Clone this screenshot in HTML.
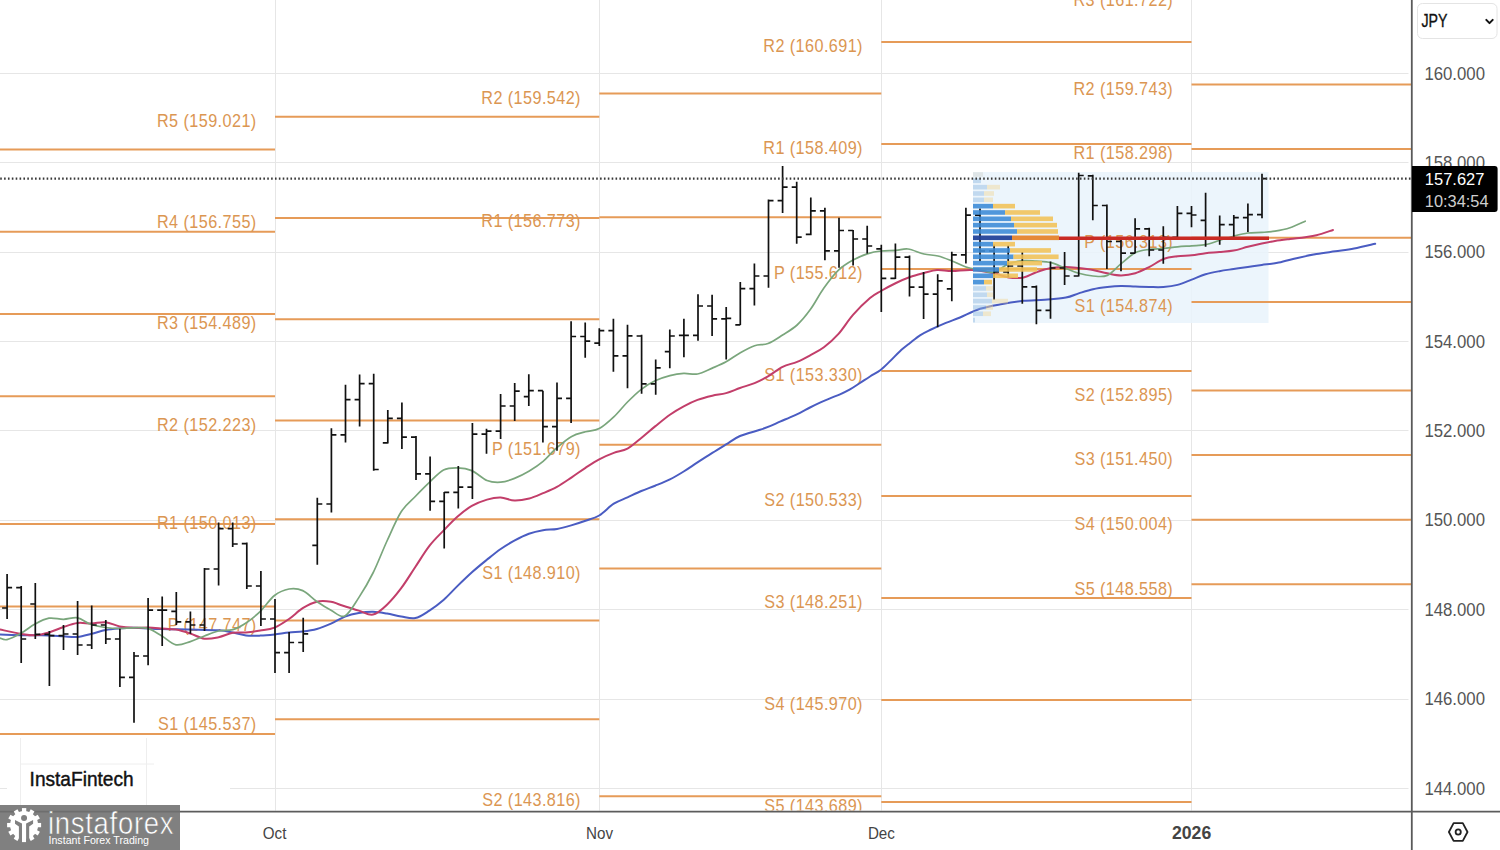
<!DOCTYPE html>
<html><head><meta charset="utf-8">
<style>
html,body{margin:0;padding:0;background:#fff;width:1500px;height:850px;overflow:hidden}
svg{display:block}
text{font-family:"Liberation Sans",sans-serif}
.pl{font-size:18px;fill:#db9652}
.ax{font-size:17.5px;fill:#555}
.tag{font-size:17px}
.jpy{font-size:18px;fill:#111}
.mo{font-size:16.5px;fill:#444}
.ift{font-size:20.5px;fill:#111}
.ifx{font-size:32px;fill:#fff}
.ifs{font-size:10.5px;fill:#fff}
</style></head><body>
<svg width="1500" height="850" viewBox="0 0 1500 850">
<rect width="1500" height="850" fill="#fff"/>
<defs><clipPath id="cp"><rect x="0" y="0" width="1411" height="810.5"/></clipPath></defs><g clip-path="url(#cp)">
<line x1="0" y1="788.5" x2="1408.5" y2="788.5" stroke="#e6e6e6" stroke-width="1"/>
<line x1="0" y1="699.5" x2="1408.5" y2="699.5" stroke="#e6e6e6" stroke-width="1"/>
<line x1="0" y1="609.5" x2="1408.5" y2="609.5" stroke="#e6e6e6" stroke-width="1"/>
<line x1="0" y1="520.5" x2="1408.5" y2="520.5" stroke="#e6e6e6" stroke-width="1"/>
<line x1="0" y1="430.5" x2="1408.5" y2="430.5" stroke="#e6e6e6" stroke-width="1"/>
<line x1="0" y1="341.5" x2="1408.5" y2="341.5" stroke="#e6e6e6" stroke-width="1"/>
<line x1="0" y1="252.5" x2="1408.5" y2="252.5" stroke="#e6e6e6" stroke-width="1"/>
<line x1="0" y1="162.5" x2="1408.5" y2="162.5" stroke="#e6e6e6" stroke-width="1"/>
<line x1="0" y1="73.5" x2="1408.5" y2="73.5" stroke="#e6e6e6" stroke-width="1"/>
<line x1="275.5" y1="0" x2="275.5" y2="811" stroke="#e6e6e6" stroke-width="1"/>
<line x1="599.5" y1="0" x2="599.5" y2="811" stroke="#e6e6e6" stroke-width="1"/>
<line x1="881.5" y1="0" x2="881.5" y2="811" stroke="#e6e6e6" stroke-width="1"/>
<line x1="1191.5" y1="0" x2="1191.5" y2="811" stroke="#e6e6e6" stroke-width="1"/>
<rect x="7" y="740" width="223" height="70" fill="#fff"/>
<line x1="20.5" y1="738" x2="20.5" y2="805" stroke="#eeeeee" stroke-width="1"/>
<line x1="146.5" y1="738" x2="146.5" y2="805" stroke="#eeeeee" stroke-width="1"/>
<line x1="20" y1="764" x2="154" y2="764" stroke="#eeeeee" stroke-width="1"/>
<rect x="973" y="172" width="295.5" height="151" fill="#e9f3fc" fill-opacity="0.85"/>
<line x1="0" y1="149.4" x2="275" y2="149.4" stroke="#e69b58" stroke-width="2"/>
<line x1="0" y1="231.7" x2="275" y2="231.7" stroke="#e69b58" stroke-width="2"/>
<line x1="0" y1="314" x2="275" y2="314" stroke="#e69b58" stroke-width="2"/>
<line x1="0" y1="396.3" x2="275" y2="396.3" stroke="#e69b58" stroke-width="2"/>
<line x1="0" y1="524" x2="275" y2="524" stroke="#e69b58" stroke-width="2"/>
<line x1="0" y1="606.4" x2="275" y2="606.4" stroke="#e69b58" stroke-width="2"/>
<line x1="0" y1="734" x2="275" y2="734" stroke="#e69b58" stroke-width="2"/>
<line x1="275" y1="116.75" x2="599.3" y2="116.75" stroke="#e69b58" stroke-width="2"/>
<line x1="275" y1="218.01" x2="599.3" y2="218.01" stroke="#e69b58" stroke-width="2"/>
<line x1="275" y1="319.27" x2="599.3" y2="319.27" stroke="#e69b58" stroke-width="2"/>
<line x1="275" y1="420.53" x2="599.3" y2="420.53" stroke="#e69b58" stroke-width="2"/>
<line x1="275" y1="519.29" x2="599.3" y2="519.29" stroke="#e69b58" stroke-width="2"/>
<line x1="275" y1="620.56" x2="599.3" y2="620.56" stroke="#e69b58" stroke-width="2"/>
<line x1="275" y1="719.32" x2="599.3" y2="719.32" stroke="#e69b58" stroke-width="2"/>
<line x1="599.3" y1="93.47" x2="881.3" y2="93.47" stroke="#e69b58" stroke-width="2"/>
<line x1="599.3" y1="217.21" x2="881.3" y2="217.21" stroke="#e69b58" stroke-width="2"/>
<line x1="599.3" y1="444.84" x2="881.3" y2="444.84" stroke="#e69b58" stroke-width="2"/>
<line x1="599.3" y1="568.58" x2="881.3" y2="568.58" stroke="#e69b58" stroke-width="2"/>
<line x1="599.3" y1="796.22" x2="881.3" y2="796.22" stroke="#e69b58" stroke-width="2"/>
<line x1="881.3" y1="42.12" x2="1191.5" y2="42.12" stroke="#e69b58" stroke-width="2"/>
<line x1="881.3" y1="144.1" x2="1191.5" y2="144.1" stroke="#e69b58" stroke-width="2"/>
<line x1="881.3" y1="269.09" x2="1191.5" y2="269.09" stroke="#e69b58" stroke-width="2"/>
<line x1="881.3" y1="371.07" x2="1191.5" y2="371.07" stroke="#e69b58" stroke-width="2"/>
<line x1="881.3" y1="496.06" x2="1191.5" y2="496.06" stroke="#e69b58" stroke-width="2"/>
<line x1="881.3" y1="598.03" x2="1191.5" y2="598.03" stroke="#e69b58" stroke-width="2"/>
<line x1="881.3" y1="699.97" x2="1191.5" y2="699.97" stroke="#e69b58" stroke-width="2"/>
<line x1="881.3" y1="801.9" x2="1191.5" y2="801.9" stroke="#e69b58" stroke-width="2"/>
<line x1="1191.5" y1="84.48" x2="1411" y2="84.48" stroke="#e69b58" stroke-width="2"/>
<line x1="1191.5" y1="149.06" x2="1411" y2="149.06" stroke="#e69b58" stroke-width="2"/>
<line x1="1191.5" y1="237.76" x2="1411" y2="237.76" stroke="#e69b58" stroke-width="2"/>
<line x1="1191.5" y1="302.07" x2="1411" y2="302.07" stroke="#e69b58" stroke-width="2"/>
<line x1="1191.5" y1="390.5" x2="1411" y2="390.5" stroke="#e69b58" stroke-width="2"/>
<line x1="1191.5" y1="455.08" x2="1411" y2="455.08" stroke="#e69b58" stroke-width="2"/>
<line x1="1191.5" y1="519.7" x2="1411" y2="519.7" stroke="#e69b58" stroke-width="2"/>
<line x1="1191.5" y1="584.31" x2="1411" y2="584.31" stroke="#e69b58" stroke-width="2"/>
<g transform="translate(256.2 126.95) scale(0.9 1)"><text x="0" y="0" text-anchor="end" class="pl" textLength="110.25" lengthAdjust="spacing">R5 (159.021)</text></g>
<g transform="translate(256.2 228.21) scale(0.9 1)"><text x="0" y="0" text-anchor="end" class="pl" textLength="110.25" lengthAdjust="spacing">R4 (156.755)</text></g>
<g transform="translate(256.2 329.47) scale(0.9 1)"><text x="0" y="0" text-anchor="end" class="pl" textLength="110.25" lengthAdjust="spacing">R3 (154.489)</text></g>
<g transform="translate(256.2 430.73) scale(0.9 1)"><text x="0" y="0" text-anchor="end" class="pl" textLength="110.25" lengthAdjust="spacing">R2 (152.223)</text></g>
<g transform="translate(256.2 529.49) scale(0.9 1)"><text x="0" y="0" text-anchor="end" class="pl" textLength="110.25" lengthAdjust="spacing">R1 (150.013)</text></g>
<g transform="translate(256.2 630.76) scale(0.9 1)"><text x="0" y="0" text-anchor="end" class="pl" textLength="98.37" lengthAdjust="spacing">P (147.747)</text></g>
<g transform="translate(256.2 729.52) scale(0.9 1)"><text x="0" y="0" text-anchor="end" class="pl" textLength="109.21" lengthAdjust="spacing">S1 (145.537)</text></g>
<g transform="translate(580.5 103.67) scale(0.9 1)"><text x="0" y="0" text-anchor="end" class="pl" textLength="110.25" lengthAdjust="spacing">R2 (159.542)</text></g>
<g transform="translate(580.5 227.41) scale(0.9 1)"><text x="0" y="0" text-anchor="end" class="pl" textLength="110.25" lengthAdjust="spacing">R1 (156.773)</text></g>
<g transform="translate(580.5 455.04) scale(0.9 1)"><text x="0" y="0" text-anchor="end" class="pl" textLength="98.37" lengthAdjust="spacing">P (151.679)</text></g>
<g transform="translate(580.5 578.78) scale(0.9 1)"><text x="0" y="0" text-anchor="end" class="pl" textLength="109.21" lengthAdjust="spacing">S1 (148.910)</text></g>
<g transform="translate(580.5 806.42) scale(0.9 1)"><text x="0" y="0" text-anchor="end" class="pl" textLength="109.21" lengthAdjust="spacing">S2 (143.816)</text></g>
<g transform="translate(862.5 52.32) scale(0.9 1)"><text x="0" y="0" text-anchor="end" class="pl" textLength="110.25" lengthAdjust="spacing">R2 (160.691)</text></g>
<g transform="translate(862.5 154.3) scale(0.9 1)"><text x="0" y="0" text-anchor="end" class="pl" textLength="110.25" lengthAdjust="spacing">R1 (158.409)</text></g>
<g transform="translate(862.5 279.29) scale(0.9 1)"><text x="0" y="0" text-anchor="end" class="pl" textLength="98.37" lengthAdjust="spacing">P (155.612)</text></g>
<g transform="translate(862.5 381.27) scale(0.9 1)"><text x="0" y="0" text-anchor="end" class="pl" textLength="109.21" lengthAdjust="spacing">S1 (153.330)</text></g>
<g transform="translate(862.5 506.26) scale(0.9 1)"><text x="0" y="0" text-anchor="end" class="pl" textLength="109.21" lengthAdjust="spacing">S2 (150.533)</text></g>
<g transform="translate(862.5 608.23) scale(0.9 1)"><text x="0" y="0" text-anchor="end" class="pl" textLength="109.21" lengthAdjust="spacing">S3 (148.251)</text></g>
<g transform="translate(862.5 710.17) scale(0.9 1)"><text x="0" y="0" text-anchor="end" class="pl" textLength="109.21" lengthAdjust="spacing">S4 (145.970)</text></g>
<g transform="translate(862.5 812.1) scale(0.9 1)"><text x="0" y="0" text-anchor="end" class="pl" textLength="109.21" lengthAdjust="spacing">S5 (143.689)</text></g>
<g transform="translate(1172.7 6.25) scale(0.9 1)"><text x="0" y="0" text-anchor="end" class="pl" textLength="110.25" lengthAdjust="spacing">R3 (161.722)</text></g>
<g transform="translate(1172.7 94.68) scale(0.9 1)"><text x="0" y="0" text-anchor="end" class="pl" textLength="110.25" lengthAdjust="spacing">R2 (159.743)</text></g>
<g transform="translate(1172.7 159.26) scale(0.9 1)"><text x="0" y="0" text-anchor="end" class="pl" textLength="110.25" lengthAdjust="spacing">R1 (158.298)</text></g>
<g transform="translate(1172.7 247.96) scale(0.9 1)"><text x="0" y="0" text-anchor="end" class="pl" textLength="98.37" lengthAdjust="spacing">P (156.313)</text></g>
<g transform="translate(1172.7 312.27) scale(0.9 1)"><text x="0" y="0" text-anchor="end" class="pl" textLength="109.21" lengthAdjust="spacing">S1 (154.874)</text></g>
<g transform="translate(1172.7 400.7) scale(0.9 1)"><text x="0" y="0" text-anchor="end" class="pl" textLength="109.21" lengthAdjust="spacing">S2 (152.895)</text></g>
<g transform="translate(1172.7 465.28) scale(0.9 1)"><text x="0" y="0" text-anchor="end" class="pl" textLength="109.21" lengthAdjust="spacing">S3 (151.450)</text></g>
<g transform="translate(1172.7 529.9) scale(0.9 1)"><text x="0" y="0" text-anchor="end" class="pl" textLength="109.21" lengthAdjust="spacing">S4 (150.004)</text></g>
<g transform="translate(1172.7 594.51) scale(0.9 1)"><text x="0" y="0" text-anchor="end" class="pl" textLength="109.21" lengthAdjust="spacing">S5 (148.558)</text></g>
<path d="M0 634.5C3.5 634.62 15.17 635.07 21 635.2C26.83 635.33 30.33 635.27 35 635.3C39.67 635.33 44.25 635.23 49 635.4C53.75 635.57 58.73 636.03 63.5 636.3C68.27 636.57 72.92 637.42 77.6 637C82.28 636.58 86.93 634.97 91.6 633.8C96.27 632.63 100.93 630.9 105.6 630C110.27 629.1 114.95 628.77 119.6 628.4C124.25 628.03 126.45 627.7 133.5 627.8C140.55 627.9 152.43 628.72 161.9 629C171.37 629.28 180.83 629.28 190.3 629.5C199.77 629.72 211.62 629.8 218.7 630.3C225.78 630.8 228.25 631.63 232.8 632.5C237.35 633.37 241.42 634.98 246 635.5C250.58 636.02 255.55 635.78 260.3 635.6C265.05 635.42 269.72 634.92 274.5 634.4C279.28 633.88 284.3 632.98 289 632.5C293.7 632.02 298.07 632.08 302.7 631.5C307.33 630.92 312.08 630.32 316.8 629C321.52 627.68 326.3 625.67 331 623.6C335.7 621.53 340.37 618.37 345 616.6C349.63 614.83 354.13 613.8 358.8 613C363.47 612.2 368.3 611.7 373 611.8C377.7 611.9 382.3 612.82 387 613.6C391.7 614.38 396.48 615.75 401.2 616.5C405.92 617.25 410.6 619.08 415.3 618.1C420 617.12 424.7 613.62 429.4 610.6C434.1 607.58 438.8 604.12 443.5 600C448.2 595.88 452.77 590.6 457.6 585.9C462.43 581.2 467.67 576.12 472.5 571.8C477.33 567.48 481.9 563.8 486.6 560C491.3 556.2 496 552.27 500.7 549C505.4 545.73 510.1 542.93 514.8 540.4C519.5 537.87 524.2 535.48 528.9 533.8C533.6 532.12 538.3 531.12 543 530.3C547.7 529.48 552.4 529.72 557.1 528.9C561.8 528.08 566.47 526.75 571.2 525.4C575.93 524.05 580.83 522.45 585.5 520.8C590.17 519.15 594.48 518.35 599.2 515.5C603.92 512.65 609.08 506.72 613.8 503.7C618.52 500.68 622.92 499.52 627.5 497.4C632.08 495.28 636.7 492.95 641.3 491C645.9 489.05 650.33 487.63 655.1 485.7C659.87 483.77 665.13 481.77 669.9 479.4C674.67 477.03 679.1 474.33 683.7 471.5C688.3 468.67 692.73 465.5 697.5 462.4C702.27 459.3 707.53 455.9 712.3 452.9C717.07 449.9 721.48 447.22 726.1 444.4C730.72 441.58 734.35 438.43 740 436C745.65 433.57 755 431.43 760 429.8C765 428.17 766.67 427.57 770 426.2C773.33 424.83 776.67 423.07 780 421.6C783.33 420.13 786.67 418.87 790 417.4C793.33 415.93 796.67 414.45 800 412.8C803.33 411.15 806.67 409.2 810 407.5C813.33 405.8 816.67 404.13 820 402.6C823.33 401.07 826.67 399.68 830 398.3C833.33 396.92 836.67 395.78 840 394.3C843.33 392.82 846.67 391.28 850 389.4C853.33 387.52 856.67 385.15 860 383C863.33 380.85 866.57 378.67 870 376.5C873.43 374.33 877.17 372.65 880.6 370C884.03 367.35 887.37 363.73 890.6 360.6C893.83 357.47 896.77 354.13 900 351.2C903.23 348.27 906.67 345.65 910 343C913.33 340.35 916.67 337.47 920 335.3C923.33 333.13 925.68 332.07 930 330C934.32 327.93 940.9 324.98 945.9 322.9C950.9 320.82 954.32 319.85 960 317.5C965.68 315.15 972.95 311.05 980 308.8C987.05 306.55 995.05 305.33 1002.3 304C1009.55 302.67 1016.43 301.52 1023.5 300.8C1030.57 300.08 1037.63 300.23 1044.7 299.7C1051.77 299.17 1060.23 298.65 1065.9 297.6C1071.57 296.55 1074.18 294.8 1078.7 293.4C1083.22 292 1088.23 290.27 1093 289.2C1097.77 288.13 1102.62 287.53 1107.3 287C1111.98 286.47 1116.43 286.07 1121.1 286C1125.77 285.93 1130.57 286.43 1135.3 286.6C1140.03 286.77 1144.82 286.93 1149.5 287C1154.18 287.07 1158.73 287.35 1163.4 287C1168.07 286.65 1172.78 286.13 1177.5 284.9C1182.22 283.67 1187.03 281.37 1191.7 279.6C1196.37 277.83 1200.88 275.7 1205.5 274.3C1210.12 272.9 1214.72 272.08 1219.4 271.2C1224.08 270.32 1228.87 269.72 1233.6 269C1238.33 268.28 1243.1 267.57 1247.8 266.9C1252.5 266.23 1256.63 265.72 1261.8 265C1266.97 264.28 1272.83 263.78 1278.8 262.6C1284.77 261.42 1291.32 259.32 1297.6 257.9C1303.88 256.48 1310.22 255.2 1316.5 254.1C1322.78 253 1329.03 252.23 1335.3 251.3C1341.57 250.37 1347.45 249.75 1354.1 248.5C1360.75 247.25 1371.68 244.58 1375.2 243.8" fill="none" stroke="#4a5cc2" stroke-width="2" stroke-linejoin="round" stroke-linecap="round"/>
<path d="M0 629.5C3.5 630.22 15.17 632.83 21 633.8C26.83 634.77 30.33 635.52 35 635.3C39.67 635.08 44.25 633.88 49 632.5C53.75 631.12 58.73 628.58 63.5 627C68.27 625.42 72.92 623.58 77.6 623C82.28 622.42 86.93 623.63 91.6 623.5C96.27 623.37 100.93 621.72 105.6 622.2C110.27 622.68 114.95 625.47 119.6 626.4C124.25 627.33 128.8 627.62 133.5 627.8C138.2 627.98 143.07 627.4 147.8 627.5C152.53 627.6 157.2 628.05 161.9 628.4C166.6 628.75 171.27 628.75 176 629.6C180.73 630.45 185.57 631.98 190.3 633.5C195.03 635.02 199.67 638.08 204.4 638.7C209.13 639.32 213.97 638.18 218.7 637.2C223.43 636.22 228.25 633.58 232.8 632.8C237.35 632.02 241.42 632.87 246 632.5C250.58 632.13 255.55 631.42 260.3 630.6C265.05 629.78 269.72 629.53 274.5 627.6C279.28 625.67 284.3 622.23 289 619C293.7 615.77 298.07 611.08 302.7 608.2C307.33 605.32 312.08 602.78 316.8 601.7C321.52 600.62 327.13 601.2 331 601.7C334.87 602.2 335.37 603.22 340 604.7C344.63 606.18 353.3 608.95 358.8 610.6C364.3 612.25 368.3 615.58 373 614.6C377.7 613.62 382.3 609.1 387 604.7C391.7 600.3 396.48 594.48 401.2 588.2C405.92 581.92 410.6 574.05 415.3 567C420 559.95 424.7 551.97 429.4 545.9C434.1 539.83 438.8 535.5 443.5 530.6C448.2 525.7 452.88 520.62 457.6 516.5C462.32 512.38 466.9 508.72 471.8 505.9C476.7 503.08 482.18 501 487 499.6C491.82 498.2 496.12 497.33 500.7 497.5C505.28 497.67 509.73 500.43 514.5 500.6C519.27 500.77 524.53 499.73 529.3 498.5C534.07 497.27 538.5 495.13 543.1 493.2C547.7 491.27 552.13 489.55 556.9 486.9C561.67 484.25 566.93 480.48 571.7 477.3C576.47 474.12 580.92 470.8 585.5 467.8C590.08 464.8 594.48 461.78 599.2 459.3C603.92 456.82 609.08 454.68 613.8 452.9C618.52 451.12 622.92 451.08 627.5 448.6C632.08 446.12 636.7 441.7 641.3 438C645.9 434.3 650.33 430.28 655.1 426.4C659.87 422.52 665.13 418.05 669.9 414.7C674.67 411.35 679.1 408.77 683.7 406.3C688.3 403.83 692.73 401.67 697.5 399.9C702.27 398.13 707.53 396.83 712.3 395.7C717.07 394.57 721.48 394.38 726.1 393.1C730.72 391.82 735.25 389.67 740 388C744.75 386.33 749.93 385.03 754.6 383.1C759.27 381.17 763.33 379.12 768 376.4C772.67 373.68 777.75 369.23 782.6 366.8C787.45 364.37 792.45 363.75 797.1 361.8C801.75 359.85 806.03 357.52 810.5 355.1C814.97 352.68 819.23 350.83 823.9 347.3C828.57 343.77 833.65 339.3 838.5 333.9C843.35 328.5 847.75 320.87 853 314.9C858.25 308.93 865.33 302.08 870 298.1C874.67 294.12 876.67 293.52 881 291C885.33 288.48 891.17 285.33 896 283C900.83 280.67 905.33 278.67 910 277C914.67 275.33 919.5 274.17 924 273C928.5 271.83 932.33 270.33 937 270C941.67 269.67 946.17 271 952 271C957.83 271 965.02 269.62 972 270C978.98 270.38 987.78 272.05 993.9 273.3C1000.02 274.55 1003.77 276.8 1008.7 277.5C1013.63 278.2 1018.92 278.38 1023.5 277.5C1028.08 276.62 1031.62 273.78 1036.2 272.2C1040.78 270.62 1046.05 268.88 1051 268C1055.95 267.12 1061.28 266.9 1065.9 266.9C1070.52 266.9 1074.18 267.48 1078.7 268C1083.22 268.52 1088.23 269.12 1093 270C1097.77 270.88 1102.62 272.4 1107.3 273.3C1111.98 274.2 1116.43 275.4 1121.1 275.4C1125.77 275.4 1130.57 274.72 1135.3 273.3C1140.03 271.88 1144.78 269.28 1149.5 266.9C1154.22 264.52 1158.93 260.77 1163.6 259C1168.27 257.23 1172.82 256.92 1177.5 256.3C1182.18 255.68 1187.03 255.82 1191.7 255.3C1196.37 254.78 1200.88 253.73 1205.5 253.2C1210.12 252.67 1214.72 252.53 1219.4 252.1C1224.08 251.67 1228.87 251.48 1233.6 250.6C1238.33 249.72 1243.1 247.98 1247.8 246.8C1252.5 245.62 1257.27 244.47 1261.8 243.5C1266.33 242.53 1270.3 241.75 1275 241C1279.7 240.25 1284.97 239.63 1290 239C1295.03 238.37 1300.78 237.82 1305.2 237.2C1309.62 236.58 1311.87 236.5 1316.5 235.3C1321.13 234.1 1330.25 230.88 1333 230" fill="none" stroke="#c23e6a" stroke-width="2" stroke-linejoin="round" stroke-linecap="round"/>
<path d="M0 638C1.17 638.27 3.5 640.38 7 639.6C10.5 638.82 16.33 635.9 21 633.3C25.67 630.7 30.33 626.52 35 624C39.67 621.48 44.25 618.98 49 618.2C53.75 617.42 58.73 619.37 63.5 619.3C68.27 619.23 73.18 617.02 77.6 617.8C82.02 618.58 85.33 622.38 90 624C94.67 625.62 100.67 626.75 105.6 627.5C110.53 628.25 114.95 628.45 119.6 628.5C124.25 628.55 128.8 627.82 133.5 627.8C138.2 627.78 143.07 627.03 147.8 628.4C152.53 629.77 157.2 633.27 161.9 636C166.6 638.73 171.27 643.87 176 644.8C180.73 645.73 185.57 643.07 190.3 641.6C195.03 640.13 199.67 637.77 204.4 636C209.13 634.23 213.97 632.07 218.7 631C223.43 629.93 228.25 630.93 232.8 629.6C237.35 628.27 241.42 626.05 246 623C250.58 619.95 255.55 615.88 260.3 611.3C265.05 606.72 269.72 599.22 274.5 595.5C279.28 591.78 284.3 589.82 289 589C293.7 588.18 298.07 588.52 302.7 590.6C307.33 592.68 312.08 598.23 316.8 601.5C321.52 604.77 326.35 607.78 331 610.2C335.65 612.62 340.07 618.1 344.7 616C349.33 613.9 354.08 604.77 358.8 597.6C363.52 590.43 368.3 582.43 373 573C377.7 563.57 382.3 551.2 387 541C391.7 530.8 396.48 519.22 401.2 511.8C405.92 504.38 410.6 501.4 415.3 496.5C420 491.6 424.7 486.82 429.4 482.4C434.1 477.98 438.8 472.43 443.5 470C448.2 467.57 452.88 467.7 457.6 467.8C462.32 467.9 466.9 468.48 471.8 470.6C476.7 472.72 482.18 478.57 487 480.5C491.82 482.43 496.12 482.55 500.7 482.2C505.28 481.85 509.73 480.27 514.5 478.4C519.27 476.53 524.53 473.83 529.3 471C534.07 468.17 538.5 465.28 543.1 461.4C547.7 457.52 552.13 451.87 556.9 447.7C561.67 443.53 566.93 439.05 571.7 436.4C576.47 433.75 580.92 433.1 585.5 431.8C590.08 430.5 594.48 431.08 599.2 428.6C603.92 426.12 609.08 421.33 613.8 416.9C618.52 412.47 622.92 406.6 627.5 402C632.08 397.4 636.7 392.83 641.3 389.3C645.9 385.77 650.33 383.08 655.1 380.8C659.87 378.52 665.13 376.83 669.9 375.6C674.67 374.37 679.1 373.67 683.7 373.4C688.3 373.13 692.73 374.88 697.5 374C702.27 373.12 707.53 370.13 712.3 368.1C717.07 366.07 721.48 364.33 726.1 361.8C730.72 359.27 735.25 355.58 740 352.9C744.75 350.22 749.93 347.27 754.6 345.7C759.27 344.13 763.33 345.28 768 343.5C772.67 341.72 777.75 338.08 782.6 335C787.45 331.92 792.45 329.28 797.1 325C801.75 320.72 806.03 315.47 810.5 309.3C814.97 303.13 819.23 294.53 823.9 288C828.57 281.47 833.65 274.77 838.5 270.1C843.35 265.43 848.08 262.75 853 260C857.92 257.25 863.33 255.1 868 253.6C872.67 252.1 876.33 251.53 881 251C885.67 250.47 891.5 250.73 896 250.4C900.5 250.07 903.33 248.4 908 249C912.67 249.6 919 252.83 924 254C929 255.17 933.33 254.83 938 256C942.67 257.17 947.33 259.17 952 261C956.67 262.83 961.33 265.5 966 267C970.67 268.5 975.35 269.13 980 270C984.65 270.87 989.12 273.25 993.9 272.2C998.68 271.15 1003.77 265.63 1008.7 263.7C1013.63 261.77 1018.92 261.02 1023.5 260.6C1028.08 260.18 1031.62 260.85 1036.2 261.2C1040.78 261.55 1046.2 261.57 1051 262.7C1055.8 263.83 1060.38 266.23 1065 268C1069.62 269.77 1074.03 271.97 1078.7 273.3C1083.37 274.63 1088.23 275.65 1093 276C1097.77 276.35 1102.62 277.45 1107.3 275.4C1111.98 273.35 1116.43 267.48 1121.1 263.7C1125.77 259.92 1130.57 255.08 1135.3 252.7C1140.03 250.32 1144.82 250.1 1149.5 249.4C1154.18 248.7 1158.73 248.93 1163.4 248.5C1168.07 248.07 1172.78 247.25 1177.5 246.8C1182.22 246.35 1187.03 246.15 1191.7 245.8C1196.37 245.45 1200.88 245.58 1205.5 244.7C1210.12 243.82 1214.72 241.92 1219.4 240.5C1224.08 239.08 1228.87 237.45 1233.6 236.2C1238.33 234.95 1243.1 233.63 1247.8 233C1252.5 232.37 1257.27 232.7 1261.8 232.4C1266.33 232.1 1270.3 231.97 1275 231.2C1279.7 230.43 1284.97 229.47 1290 227.8C1295.03 226.13 1302.67 222.3 1305.2 221.2" fill="none" stroke="#7aa67c" stroke-width="1.7" stroke-linejoin="round" stroke-linecap="round"/>
<path d="M7.1 574V619M2.1 608H7.1M7.1 587.6H12.1M21.2 586V663M16.2 587.6H21.2M21.2 639H26.2M35.3 583V639M30.3 604H35.3M35.3 634.4H40.3M49.4 631V686M44.4 634.4H49.4M49.4 635.6H54.4M63.5 625V650M58.5 635.6H63.5M63.5 634H68.5M77.6 601V655M72.6 634H77.6M77.6 645H82.6M91.7 605.6V649M86.7 645H91.7M91.7 625H96.7M105.8 620V644M100.8 625H105.8M105.8 639H110.8M119.9 628.7V687M114.9 639H119.9M119.9 677.4H124.9M134 652V722.7M129 677.4H134M134 656H139M148.1 598V665.3M143.1 656H148.1M148.1 610.2H153.1M162.2 596.6V646M157.2 610.2H162.2M162.2 610.2H167.2M176.3 592V625M171.3 611.4H176.3M176.3 621.8H181.3M190.4 611.4V633.7M185.4 621.8H190.4M190.4 625H195.4M204.5 568V631M199.5 625H204.5M204.5 569H209.5M218.6 522.5V585.5M213.6 569H218.6M218.6 528.7H223.6M232.7 522.5V547M227.7 528.7H232.7M232.7 544H237.7M246.8 542.4V589M241.8 543.6H246.8M246.8 586H251.8M260.9 571V626M255.9 586H260.9M260.9 619H265.9M275 599V673M270 619H275M275 652.6H280M289.1 632V673M284.1 652.6H289.1M289.1 642.5H294.1M303.2 617.8V652M298.2 642.5H303.2M303.2 633.8H308.2M317.3 497.8V564.8M312.3 545.4H317.3M317.3 504H322.3M331.4 428.3V512.6M326.4 504H331.4M331.4 434.9H336.4M345.5 384.7V442.4M340.5 434.9H345.5M345.5 399.6H350.5M359.6 374.6V426.4M354.6 399.6H359.6M359.6 383.6H364.6M373.7 373.7V470.7M368.7 383.6H373.7M373.7 469.5H378.7M387.8 410V443.6M382.8 442.9H387.8M387.8 418.4H392.8M401.9 402.4V449M396.9 418.4H401.9M401.9 437.2H406.9M416 436V480M411 437.2H416M416 473.8H421M430.1 456.6V510.7M425.1 473.8H430.1M430.1 501.3H435.1M444.2 491.9V548.4M439.2 501.3H444.2M444.2 492.4H449.2M458.3 466V508.4M453.3 492.4H458.3M458.3 487.2H463.3M472.4 423V499M467.4 487.2H472.4M472.4 434.2H477.4M486.5 428.8V453.7M481.5 434.2H486.5M486.5 431.1H491.5M500.6 394V439M495.6 431.1H500.6M500.6 406H505.6M514.7 383V421M509.7 406H514.7M514.7 391.1H519.7M528.8 374.2V406M523.8 396.6H528.8M528.8 390.7H533.8M542.9 390.7V442.5M537.9 390.7H542.9M542.9 426.7H547.9M557 382.4V450.7M552 426.7H557M557 398.4H562M571.1 321.2V423M566.1 398.4H571.1M571.1 336.5H576.1M585.2 322.4V357.7M580.2 336.5H585.2M585.2 341.2H590.2M599.3 328.3V346M594.3 343.1H599.3M599.3 330.6H604.3M613.4 318.8V371.8M608.4 330.6H613.4M613.4 355.8H618.4M627.5 324.7V388.3M622.5 355.8H627.5M627.5 335.8H632.5M641.6 334.8V393.7M636.6 336H641.6M641.6 383.8H646.6M655.7 359.5V394.8M650.7 383.8H655.7M655.7 367.8H660.7M669.8 329.6V368.2M664.8 351.7H669.8M669.8 336H674.8M683.9 318.8V357.2M678.9 335.3H683.9M683.9 335.3H688.9M698 294.3V340.7M693 335.3H698M698 306H703M712.1 294.7V336M707.1 306H712.1M712.1 318.8H717.1M726.2 307V359.5M721.2 318.8H726.2M726.2 318.3H731.2M740.3 282V324.9M735.3 324.9H740.3M740.3 288.6H745.3M754.4 263.6V305.4M749.4 288.6H754.4M754.4 276H759.4M768.5 199.5V287.8M763.5 276H768.5M768.5 200.6H773.5M782.6 166V213.1M777.6 200.6H782.6M782.6 187.2H787.6M796.7 181.8V243.7M791.7 187.2H796.7M796.7 237.1H801.7M810.8 197.6V235.3M805.8 234.3H810.8M810.8 210.8H815.8M824.9 207.7V260.2M819.9 210.8H824.9M824.9 250.8H829.9M839 217.8V267.8M834 250.8H839M839 230.5H844M853.1 230V265.4M848.1 230.5H853.1M853.1 239H858.1M867.2 225.7V253.6M862.2 239H867.2M867.2 246H872.2M881.3 244.8V311.9M876.3 248.8H881.3M881.3 278.4H886.3M895.4 243.6V278.9M890.4 278.4H895.4M895.4 257.2H900.4M909.5 255.4V296.6M904.5 257.2H909.5M909.5 287.2H914.5M923.6 271.9V319M918.6 287.2H923.6M923.6 294.2H928.6M937.7 274.2V327.2M932.7 294.2H937.7M937.7 280.8H942.7M951.8 251.8V301.3M946.8 288.8H951.8M951.8 254.9H956.8M965.9 207.7V263.6M960.9 254.9H965.9M965.9 215.2H970.9M980 208.6V261.3M975 215.2H980M980 251H985M994.1 244.5V299.8M989.1 251H994.1M994.1 272H999.1M1008.2 245.5V277.4M1003.2 272H1008.2M1008.2 266H1013.2M1022.3 252V303.8M1017.3 266H1022.3M1022.3 286.8H1027.3M1036.4 285.5V324.2M1031.4 286.8H1036.4M1036.4 310.3H1041.4M1050.5 261.6V318.8M1045.5 310.3H1050.5M1050.5 268H1055.5M1064.6 252V285M1059.6 268H1064.6M1064.6 276H1069.6M1078.7 172.7V276.4M1073.7 276H1078.7M1078.7 175.5H1083.7M1092.8 174.8V220.3M1087.8 175.9H1092.8M1092.8 205.5H1097.8M1106.9 204.5V269M1101.9 205.5H1106.9M1106.9 241.5H1111.9M1121 239.4V271.2M1116 241.5H1121M1121 253.2H1126M1135.1 218.2V253.2M1130.1 253.2H1135.1M1135.1 228.8H1140.1M1149.2 227.8V256.3M1144.2 228.8H1149.2M1149.2 250H1154.2M1163.3 226.3V263.7M1158.3 250H1163.3M1163.3 237.3H1168.3M1177.4 206V237.3M1172.4 237.3H1177.4M1177.4 213.4H1182.4M1191.5 206V227.3M1186.5 213.4H1191.5M1191.5 215H1196.5M1205.6 192.8V246.8M1200.6 220.3H1205.6M1205.6 238H1210.6M1219.7 215.5V244.7M1214.7 238H1219.7M1219.7 224.6H1224.7M1233.8 215V237.3M1228.8 224.6H1233.8M1233.8 217.6H1238.8M1247.9 203.4V232M1242.9 217.6H1247.9M1247.9 214.6H1252.9M1262 173.8V218.2M1257 214.6H1262M1262 178.6H1267" stroke="#111111" stroke-width="1.7" fill="none"/>
<rect x="973" y="172.2" width="10" height="4.6" fill="#c8c8c0" fill-opacity="0.35"/>
<rect x="973" y="178.53" width="8" height="4.6" fill="#8fb8e0" fill-opacity="0.45"/>
<rect x="973" y="184.86" width="14" height="4.6" fill="#8fb8e0" fill-opacity="0.45"/>
<rect x="987" y="184.86" width="13" height="4.6" fill="#f0d9a0" fill-opacity="0.5"/>
<rect x="973" y="191.19" width="11" height="4.6" fill="#8fb8e0" fill-opacity="0.45"/>
<rect x="984" y="191.19" width="10" height="4.6" fill="#f0d9a0" fill-opacity="0.5"/>
<rect x="973" y="197.52" width="11" height="4.6" fill="#8fb8e0" fill-opacity="0.45"/>
<rect x="984" y="197.52" width="9" height="4.6" fill="#f0d9a0" fill-opacity="0.5"/>
<rect x="973" y="203.85" width="20" height="4.6" fill="#3a8ad6" fill-opacity="0.88"/>
<rect x="993" y="203.85" width="22" height="4.6" fill="#f1c257" fill-opacity="0.88"/>
<rect x="973" y="210.18" width="32" height="4.6" fill="#3a8ad6" fill-opacity="0.88"/>
<rect x="1005" y="210.18" width="35" height="4.6" fill="#f1c257" fill-opacity="0.88"/>
<rect x="973" y="216.51" width="38" height="4.6" fill="#3a8ad6" fill-opacity="0.88"/>
<rect x="1011" y="216.51" width="42" height="4.6" fill="#f1c257" fill-opacity="0.88"/>
<rect x="973" y="222.84" width="41" height="4.6" fill="#3a8ad6" fill-opacity="0.88"/>
<rect x="1014" y="222.84" width="43" height="4.6" fill="#f1c257" fill-opacity="0.88"/>
<rect x="973" y="229.17" width="44" height="4.6" fill="#3a8ad6" fill-opacity="0.88"/>
<rect x="1017" y="229.17" width="41" height="4.6" fill="#f1c257" fill-opacity="0.88"/>
<rect x="973" y="235.5" width="39" height="4.6" fill="#24439a" fill-opacity="0.95"/>
<rect x="1012" y="235.5" width="47" height="4.6" fill="#e6842c" fill-opacity="0.95"/>
<rect x="973" y="241.83" width="20" height="4.6" fill="#3a8ad6" fill-opacity="0.88"/>
<rect x="993" y="241.83" width="22" height="4.6" fill="#f1c257" fill-opacity="0.88"/>
<rect x="973" y="248.16" width="37" height="4.6" fill="#3a8ad6" fill-opacity="0.88"/>
<rect x="1010" y="248.16" width="41" height="4.6" fill="#f1c257" fill-opacity="0.88"/>
<rect x="973" y="254.49" width="40.5" height="4.6" fill="#3a8ad6" fill-opacity="0.88"/>
<rect x="1013.5" y="254.49" width="45.1" height="4.6" fill="#f1c257" fill-opacity="0.88"/>
<rect x="973" y="260.82" width="34" height="4.6" fill="#3a8ad6" fill-opacity="0.88"/>
<rect x="1007" y="260.82" width="35" height="4.6" fill="#f1c257" fill-opacity="0.88"/>
<rect x="973" y="267.15" width="26" height="4.6" fill="#3a8ad6" fill-opacity="0.88"/>
<rect x="999" y="267.15" width="38" height="4.6" fill="#f1c257" fill-opacity="0.88"/>
<rect x="973" y="273.48" width="20" height="4.6" fill="#3a8ad6" fill-opacity="0.88"/>
<rect x="993" y="273.48" width="25" height="4.6" fill="#f1c257" fill-opacity="0.88"/>
<rect x="973" y="279.81" width="11" height="4.6" fill="#3a8ad6" fill-opacity="0.88"/>
<rect x="984" y="279.81" width="8" height="4.6" fill="#f1c257" fill-opacity="0.88"/>
<rect x="973" y="286.14" width="13" height="4.6" fill="#8fb8e0" fill-opacity="0.45"/>
<rect x="986" y="286.14" width="7" height="4.6" fill="#f0d9a0" fill-opacity="0.5"/>
<rect x="973" y="292.47" width="14" height="4.6" fill="#8fb8e0" fill-opacity="0.45"/>
<rect x="987" y="292.47" width="6" height="4.6" fill="#f0d9a0" fill-opacity="0.5"/>
<rect x="973" y="298.8" width="19" height="4.6" fill="#8fb8e0" fill-opacity="0.45"/>
<rect x="992" y="298.8" width="16" height="4.6" fill="#f0d9a0" fill-opacity="0.5"/>
<rect x="973" y="305.13" width="13" height="4.6" fill="#8fb8e0" fill-opacity="0.45"/>
<rect x="986" y="305.13" width="7" height="4.6" fill="#f0d9a0" fill-opacity="0.5"/>
<rect x="973" y="311.46" width="10" height="4.6" fill="#8fb8e0" fill-opacity="0.45"/>
<rect x="983" y="311.46" width="8" height="4.6" fill="#f0d9a0" fill-opacity="0.5"/>
<rect x="973" y="317.79" width="2" height="4.6" fill="#8fb8e0" fill-opacity="0.45"/>
<line x1="1059" y1="238.2" x2="1269" y2="238.2" stroke="#c92a24" stroke-width="3.4"/>
<line x1="0.2" y1="178.6" x2="1411" y2="178.6" stroke="#383838" stroke-width="2.2" stroke-dasharray="1.6 2.27"/>
</g>
<line x1="1411.8" y1="0" x2="1411.8" y2="850" stroke="#5a5a5a" stroke-width="1.8"/>
<line x1="180" y1="811.6" x2="1500" y2="811.6" stroke="#5c5c5c" stroke-width="1.8"/>
<text x="1424.4" y="794.5" class="ax" textLength="60.6" lengthAdjust="spacingAndGlyphs">144.000</text>
<text x="1424.4" y="705.12" class="ax" textLength="60.6" lengthAdjust="spacingAndGlyphs">146.000</text>
<text x="1424.4" y="615.75" class="ax" textLength="60.6" lengthAdjust="spacingAndGlyphs">148.000</text>
<text x="1424.4" y="526.38" class="ax" textLength="60.6" lengthAdjust="spacingAndGlyphs">150.000</text>
<text x="1424.4" y="437" class="ax" textLength="60.6" lengthAdjust="spacingAndGlyphs">152.000</text>
<text x="1424.4" y="347.62" class="ax" textLength="60.6" lengthAdjust="spacingAndGlyphs">154.000</text>
<text x="1424.4" y="258.25" class="ax" textLength="60.6" lengthAdjust="spacingAndGlyphs">156.000</text>
<text x="1424.4" y="168.88" class="ax" textLength="60.6" lengthAdjust="spacingAndGlyphs">158.000</text>
<text x="1424.4" y="79.5" class="ax" textLength="60.6" lengthAdjust="spacingAndGlyphs">160.000</text>
<path d="M1412 166H1494.6Q1497.6 166 1497.6 169V209Q1497.6 212 1494.6 212H1412Z" fill="#000"/>
<text x="1424.8" y="185.4" class="tag" fill="#ffffff" textLength="59.6" lengthAdjust="spacingAndGlyphs">157.627</text>
<text x="1424.8" y="206.6" class="tag" fill="#cfcfcf" textLength="63.7" lengthAdjust="spacingAndGlyphs">10:34:54</text>
<rect x="1417.5" y="3.5" width="79.5" height="35" rx="5" fill="#fff" stroke="#e4e4e4" stroke-width="1"/>
<text x="1421.5" y="26.6" class="jpy" textLength="26" lengthAdjust="spacingAndGlyphs" stroke="#111" stroke-width="0.35">JPY</text>
<path d="M1486.3 19.9L1489.5 23.1L1492.7 19.9" stroke="#111" stroke-width="2" fill="none" stroke-linecap="round" stroke-linejoin="round"/>
<text x="274.6" y="838.7" class="mo" text-anchor="middle" textLength="23.61" lengthAdjust="spacingAndGlyphs">Oct</text>
<text x="599.5" y="838.7" class="mo" text-anchor="middle" textLength="27" lengthAdjust="spacingAndGlyphs">Nov</text>
<text x="881.4" y="838.7" class="mo" text-anchor="middle" textLength="27" lengthAdjust="spacingAndGlyphs">Dec</text>
<text x="1191.6" y="838.7" class="mo" text-anchor="middle" font-weight="bold" fill="#222" style="font-size:17.5px" textLength="39.28" lengthAdjust="spacingAndGlyphs">2026</text>
<path d="M1448.9 832L1453.6 823.2H1462.8L1467.5 832L1462.8 840.8H1453.6Z" fill="none" stroke="#222" stroke-width="1.8" stroke-linejoin="round"/>
<circle cx="1458.2" cy="832" r="2.6" fill="none" stroke="#222" stroke-width="1.8"/>
<text x="29.6" y="786.4" class="ift" textLength="104" lengthAdjust="spacingAndGlyphs" stroke="#111" stroke-width="0.45">InstaFintech</text>
<rect x="0" y="805" width="180" height="45" fill="#808080"/>
<line x1="0" y1="811.6" x2="180" y2="811.6" stroke="#6e6e6e" stroke-width="1.8"/>
<g transform="translate(48 833.5) scale(0.86 1)"><text x="0" y="0" class="ifx" textLength="146" lengthAdjust="spacing" stroke="#808080" stroke-width="0.6">instaforex</text></g>
<text x="48.5" y="844.3" class="ifs" textLength="100.5" lengthAdjust="spacingAndGlyphs">Instant Forex Trading</text>
<circle cx="24.1" cy="825.1" r="14.0" fill="#fff"/>
<rect x="21.95" y="808.1" width="4.3" height="4.2" fill="#fff" transform="rotate(0 24.1 825.1)"/>
<rect x="21.95" y="808.1" width="4.3" height="4.2" fill="#fff" transform="rotate(30 24.1 825.1)"/>
<rect x="21.95" y="808.1" width="4.3" height="4.2" fill="#fff" transform="rotate(60 24.1 825.1)"/>
<rect x="21.95" y="808.1" width="4.3" height="4.2" fill="#fff" transform="rotate(90 24.1 825.1)"/>
<rect x="21.95" y="808.1" width="4.3" height="4.2" fill="#fff" transform="rotate(120 24.1 825.1)"/>
<rect x="21.95" y="808.1" width="4.3" height="4.2" fill="#fff" transform="rotate(150 24.1 825.1)"/>
<rect x="21.95" y="808.1" width="4.3" height="4.2" fill="#fff" transform="rotate(180 24.1 825.1)"/>
<rect x="21.95" y="808.1" width="4.3" height="4.2" fill="#fff" transform="rotate(210 24.1 825.1)"/>
<rect x="21.95" y="808.1" width="4.3" height="4.2" fill="#fff" transform="rotate(240 24.1 825.1)"/>
<rect x="21.95" y="808.1" width="4.3" height="4.2" fill="#fff" transform="rotate(270 24.1 825.1)"/>
<rect x="21.95" y="808.1" width="4.3" height="4.2" fill="#fff" transform="rotate(300 24.1 825.1)"/>
<rect x="21.95" y="808.1" width="4.3" height="4.2" fill="#fff" transform="rotate(330 24.1 825.1)"/>
<circle cx="24.06" cy="818.03" r="3" fill="#808080"/>
<path d="M15 819.9L22 823.6V845H18.9V826.5L15 823.7Z" fill="#808080"/>
<path d="M33.1 819.9L26.1 823.6V845H29.2V826.5L33.1 823.7Z" fill="#808080"/>
</svg>
</body></html>
